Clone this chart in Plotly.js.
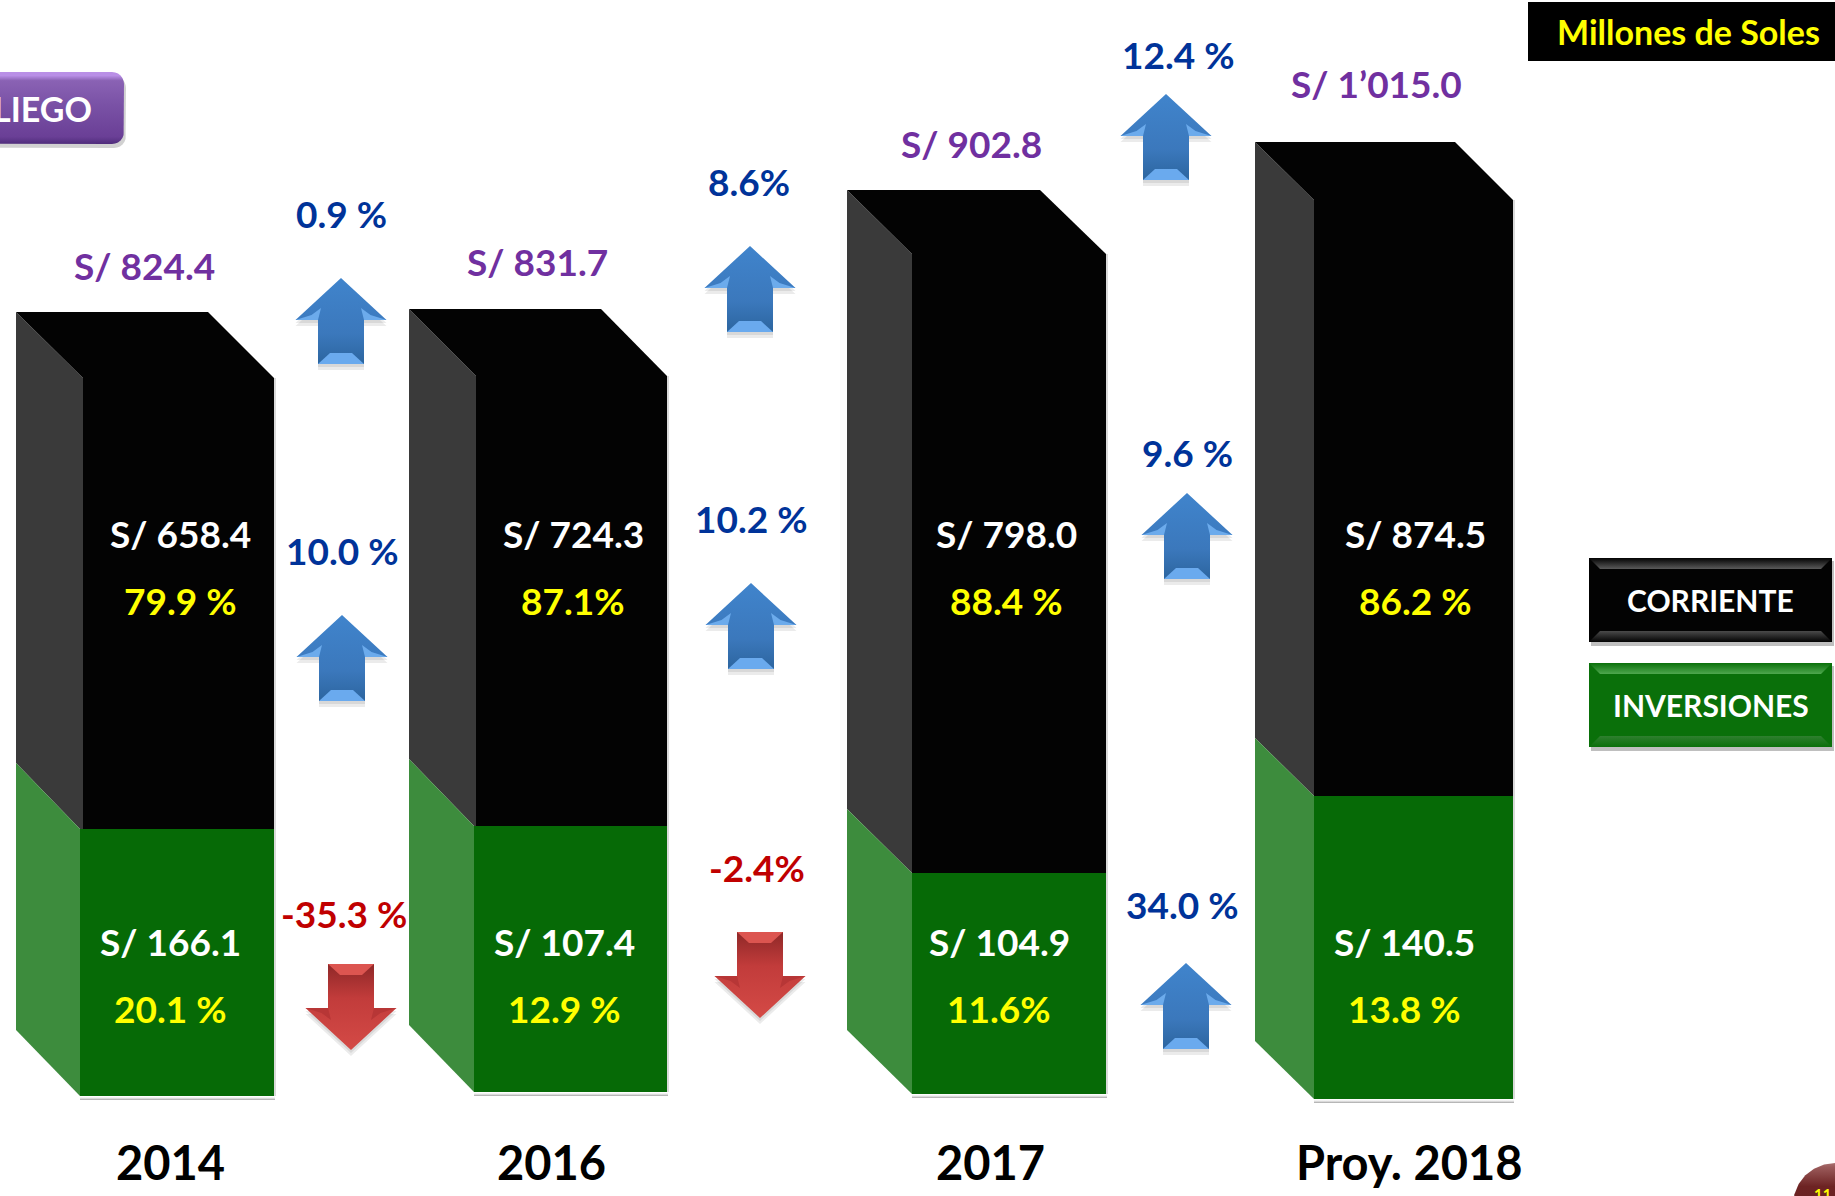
<!DOCTYPE html>
<html>
<head>
<meta charset="utf-8">
<script src="https://cdn.plot.ly/plotly-3.0.1.min.js"></script>
<style>html,body{margin:0;padding:0;background:#fff;overflow:hidden}#chart{width:1835px;height:1196px}</style>
</head>
<body>
<div id="chart"></div>
<script>
// ---- Values printed on the chart ----
const categories = ['2014', '2016', '2017', 'Proy. 2018'];
const totalLabels = ['S/ 824.4', 'S/ 831.7', 'S/ 902.8', 'S/ 1’015.0'];
const corrienteLabels = ['S/ 658.4', 'S/ 724.3', 'S/ 798.0', 'S/ 874.5'];
const corrientePct = ['79.9 %', '87.1%', '88.4 %', '86.2 %'];
const inversionLabels = ['S/ 166.1', 'S/ 107.4', 'S/ 104.9', 'S/ 140.5'];
const inversionPct = ['20.1 %', '12.9 %', '11.6%', '13.8 %'];
const changeLabels = ['0.9 %', '10.0 %', '-35.3 %', '8.6%', '10.2 %', '-2.4%', '12.4 %', '9.6 %', '34.0 %'];

// The reference's bars are not drawn to scale with their printed values,
// so bar lengths are read separately off the picture (axis units = pixels).
const corrienteDrawn = [451, 450, 619, 596];
const inversionDrawn = [267, 266, 221, 303];

// ---- Geometry of the drawing ----
const W = 1835, H = 1196;
const floorY = [1096, 1092, 1094, 1099];
const backLeft = [16, 409, 847, 1255];
const frontLeft = [83, 476, 912, 1314];
const frontLeftGreen = [80, 474, 912, 1314];
const frontRight = [274, 667, 1106, 1513];
const depthY = [66, 67, 64, 58];
const depthInset = [66, 66, 66, 58];
const labelX = [180, 573, 1006, 1415];
const greenLabelX = [170, 564, 999, 1404];
const totalX = [144, 537, 971, 1376];
const totalY = [265, 261, 143, 83];
const yearX = [170, 551, 990, 1409];
const changeX = [341, 342, 344, 749, 751, 757, 1178, 1187, 1182];
const changeY = [213, 550, 913, 181, 518, 867, 54, 452, 904];
const arrowX = [341, 342, 351, 750, 751, 760, 1166, 1187, 1186];
const arrowTip = [278, 615, 1050, 246, 583, 1018, 94, 493, 963];
const arrowDir = [1, 1, -1, 1, 1, -1, 1, 1, 1];

const colBlack = '#030303', colDark = '#3a3a3a', colGreen = '#066a06', colSideGreen = '#3d8c3d';
const traces = [];
const ann = [];

function poly(xs, ys, color, grad) {
  const t = {
    x: xs.concat(xs[0]), y: ys.concat(ys[0]), type: 'scatter', mode: 'lines', fill: 'toself',
    line: {width: 0, color: 'rgba(0,0,0,0)'}, fillcolor: color, hoverinfo: 'skip', showlegend: false
  };
  if (grad) {
    t.fillgradient = {type: 'vertical', colorscale: grad};
  }
  return t;
}
function rounded(x0, y0, x1, y1, r) {
  const xs = [], ys = [];
  const corners = [[x1 - r, y0 + r, -90], [x1 - r, y1 - r, 0], [x0 + r, y1 - r, 90], [x0 + r, y0 + r, 180]];
  corners.forEach(c => {
    for (let a = 0; a <= 90; a += 15) {
      const q = (c[2] + a) * Math.PI / 180;
      xs.push(c[0] + r * Math.cos(q));
      ys.push(c[1] + r * Math.sin(q));
    }
  });
  return [xs, ys];
}
function label(x, y, text, color, size, opts) {
  ann.push(Object.assign({
    x: x, y: y, xref: 'x', yref: 'y', text: text, showarrow: false, xanchor: 'center', yanchor: 'middle',
    font: {family: 'Lato, "Open Sans", sans-serif', size: size, color: color, weight: 700}
  }, opts || {}));
}

// ---- Front faces are real bars, stacked from the drawn lengths ----
const centerGreen = frontRight.map((r, i) => (r + frontLeftGreen[i]) / 2);
const widthGreen = frontRight.map((r, i) => r - frontLeftGreen[i]);
const centerBlack = frontRight.map((r, i) => (r + frontLeft[i]) / 2);
const widthBlack = frontRight.map((r, i) => r - frontLeft[i]);
const boundaryY = floorY.map((f, i) => f - inversionDrawn[i]);
traces.push({
  type: 'bar', name: 'INVERSIONES', x: centerGreen, width: widthGreen, base: floorY,
  y: inversionDrawn.map(v => -v), marker: {color: colGreen, line: {width: 0}}, hoverinfo: 'skip', showlegend: false
});
traces.push({
  type: 'bar', name: 'CORRIENTE', x: centerBlack, width: widthBlack, base: boundaryY,
  y: corrienteDrawn.map(v => -v), marker: {color: colBlack, line: {width: 0}}, hoverinfo: 'skip', showlegend: false
});

// ---- Side and top faces derived from the same bars ----
categories.forEach((c, i) => {
  const dY = depthY[i], L = backLeft[i], F = frontLeft[i], G = frontLeftGreen[i], R = frontRight[i];
  const bottom = floorY[i], mid = boundaryY[i], top = mid - corrienteDrawn[i];
  // soft shadow
  traces.push(poly([G, R + 1, R + 1, G], [bottom, bottom, bottom + 4, bottom + 4], '#ccc',
    [[0, 'rgba(120,120,120,0.7)'], [1, 'rgba(255,255,255,0)']]));
  traces.push(poly([R, R + 2, R + 2, R], [top, top, bottom, bottom], 'rgba(150,150,150,0.35)'));
  traces.push(poly([L, F, F, G, L], [top - dY, top, mid, mid, mid - dY], colDark));
  traces.push(poly([L, G, G, L], [mid - dY, mid, bottom, bottom - dY], colSideGreen));
  traces.push(poly([L, R - depthInset[i], R, F], [top - dY, top - dY, top, top], colBlack));
  label(totalX[i], totalY[i], totalLabels[i], '#7030a0', 37);
  label(labelX[i], 533, corrienteLabels[i], '#ffffff', 37);
  label(labelX[i], 600, corrientePct[i], '#ffff00', 37);
  label(greenLabelX[i], 941, inversionLabels[i], '#ffffff', 37);
  label(greenLabelX[i], 1008, inversionPct[i], '#ffff00', 37);
  label(yearX[i], 1162, categories[i], '#000000', 47);
});

// ---- Bevelled arrows ----
function arrow(cx, tip, dir) {
  const s = dir;            // 1 = up, -1 = down
  const hw = 45.5, sw = 23, headH = 42 , tot = 86;
  const Y = d => tip + s * d;
  const up = s === 1;
  const base = up ? '#3f7fc6' : '#c94140';
  const light = up ? '#6aaaee' : '#dc5550';
  const shadow = 'rgba(0,0,0,0.08)';
  // shadow
  [3, 6].forEach(o => {
    traces.push(poly(
      [cx, cx + hw, cx + sw, cx + sw, cx - sw, cx - sw, cx - hw],
      [Y(0) + o, Y(headH) + o, Y(headH) + o, Y(tot) + o, Y(tot) + o, Y(headH) + o, Y(headH) + o], shadow));
  });
  // body
  traces.push(poly(
    [cx, cx + hw, cx + sw, cx + sw, cx - sw, cx - sw, cx - hw],
    [Y(0), Y(headH), Y(headH), Y(tot), Y(tot), Y(headH), Y(headH)], base,
    up ? [[0, '#2c659f'], [0.35, '#3b78bc'], [1, '#4084cc']] : [[0, '#d44a46'], [0.6, '#c23c3b'], [1, '#8f2828']]));
  // end-of-shaft bevel
  traces.push(poly([cx - sw, cx + sw, cx + sw - 12, cx - sw + 12],
    [Y(tot), Y(tot), Y(tot - 11), Y(tot - 11)], light));
  // bevels under the head
  const head = up ? '#6cabec' : '#b73636';
  traces.push(poly([cx - hw, cx - sw, cx - sw + 3, cx - hw + 16], [Y(headH), Y(headH), Y(headH - 12), Y(headH - 5)], head));
  traces.push(poly([cx + hw, cx + sw, cx + sw - 3, cx + hw - 16], [Y(headH), Y(headH), Y(headH - 12), Y(headH - 5)], head));
}
changeLabels.forEach((t, i) => {
  arrow(arrowX[i], arrowTip[i], arrowDir[i]);
  label(changeX[i], changeY[i], t, t.charAt(0) === '-' ? '#c00000' : '#003399', 37);
});

// ---- Unit box ----
traces.push(poly([1528, W, W, 1528], [2, 2, 61, 61], '#000000'));
label(1688, 31, 'Millones de Soles', '#ffff00', 34);

// ---- Legend plates ----
function plate(x0, y0, x1, y1, body, hi, lo, text, size) {
  traces.push(poly([x0 + 2, x1 + 2, x1 + 2, x0 + 2], [y0 + 3, y0 + 3, y1 + 4, y1 + 4], 'rgba(0,0,0,0.25)'));
  traces.push(poly([x0, x1, x1, x0], [y0, y0, y1, y1], body));
  const b = 11;
  traces.push(poly([x0, x1, x1 - b, x0 + b], [y0, y0, y0 + b, y0 + b], hi, [[0, hi], [1, body]]));
  traces.push(poly([x0, x1, x1 - b, x0 + b], [y1, y1, y1 - b, y1 - b], lo, [[0, body], [1, lo]]));
  label((x0 + x1) / 2, (y0 + y1) / 2, text, '#ffffff', size);
}
plate(1589, 558, 1832, 642, '#030303', '#5a5a5a', '#4a4a4a', 'CORRIENTE', 30);
plate(1589, 663, 1832, 747, '#0a700a', '#4fa84f', '#2f7f2f', 'INVERSIONES', 30);

// ---- Purple tag, clipped by the left edge ----
const sh = rounded(-30, 76, 126, 148, 12);
traces.push(poly(sh[0], sh[1], 'rgba(0,0,0,0.18)'));
const tag = rounded(-30, 72, 124, 144, 12);
traces.push(poly(tag[0], tag[1], '#7a52a5',
  [[0, '#4f2c7b'], [0.1, '#6a3f96'], [0.55, '#7a52a6'], [0.88, '#8a62b4'], [0.95, '#b98fe6'], [1, '#b98fe6']]));
label(94, 108, 'LIEGO', '#ffffff', 34, {xanchor: 'right'});

// ---- Page badge, clipped by the corner ----
const badge = rounded(1793, 1163, 1877, 1247, 42);
traces.push(poly(badge[0], badge[1], '#6d2323', [[0, '#5e1e1e'], [0.72, '#6d2323'], [0.95, '#9a5a5a'], [1, '#a97070']]));
label(1822, 1194, '11', '#ffff00', 15);

const layout = {
  width: W, height: H, margin: {l: 0, r: 0, t: 0, b: 0, pad: 0},
  paper_bgcolor: '#ffffff', plot_bgcolor: '#ffffff', showlegend: false, barmode: 'overlay', dragmode: false,
  xaxis: {range: [0, W], visible: false, fixedrange: true},
  yaxis: {range: [H, 0], visible: false, fixedrange: true},
  annotations: ann
};
Plotly.newPlot('chart', traces, layout, {displayModeBar: false, staticPlot: true});
</script>
</body>
</html>
